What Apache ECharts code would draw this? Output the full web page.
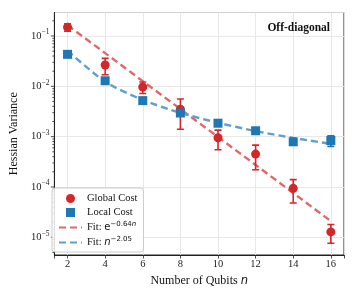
<!DOCTYPE html>
<html><head><meta charset="utf-8">
<script src="https://cdn.jsdelivr.net/npm/echarts@6/dist/echarts.min.js"></script>
<style>html,body{margin:0;padding:0;background:#fff}#c{width:357px;height:297px}</style>
</head><body><div id="c"></div>
<script>
const nVals = [2, 4, 6, 8, 10, 12, 14, 16];
const globalCost = [0.149, 0.0265, 0.0097, 0.0035, 0.00095, 0.00045, 0.000094, 0.0000128];
const globalErr  = [0.025, 0.0095, 0.0025, 0.0021, 0.0004, 0.00023, 0.000046, 0.0000052];
const localCost  = [0.0432, 0.0129, 0.0052, 0.00295, 0.00185, 0.00131, 0.00079, 0.00084];
const localErr   = [0.004, 0.0015, 0.0006, 0.0003, 0.0002, 0.00015, 0.0001, 0.0002];
const globalFit  = [0.164, 0.0457, 0.0127, 0.00354, 0.000985, 0.000274, 0.000076, 0.000021];
const localFit   = [0.051, 0.0123, 0.00536, 0.00297, 0.00189, 0.00129, 0.000944, 0.00072];
const xTickLabels = ['2', '4', '6', '8', '10', '12', '14', '16'];
const yMajor = [1e-5, 1e-4, 1e-3, 1e-2, 1e-1];
const yMin = 4.45e-6, yMax = 0.293;

const RED = '#d62728', BLUE = '#1f77b4', RED_FIT = '#e26768', BLUE_FIT = '#62a0ca';
const SERIF = 'Liberation Serif';

const minorVals = [];
for (let k = -6; k <= -1; k++) for (let m = 2; m <= 9; m++) {
  const v = m * Math.pow(10, k);
  if (v > yMin && v < yMax) minorVals.push(v);
}

function errData(vals, errs) { return nVals.map((n, i) => [n, vals[i] - errs[i], vals[i] + errs[i]]); }

function errRender(color) {
  return function (params, api) {
    const lo = api.coord([api.value(0), api.value(1)]);
    const hi = api.coord([api.value(0), api.value(2)]);
    const w = 3.5;
    const st = { stroke: color, lineWidth: 1.6 };
    return { type: 'group', children: [
      { type: 'line', shape: { x1: lo[0], y1: lo[1], x2: hi[0], y2: hi[1] }, style: st },
      { type: 'line', shape: { x1: lo[0] - w, y1: lo[1], x2: lo[0] + w, y2: lo[1] }, style: st },
      { type: 'line', shape: { x1: hi[0] - w, y1: hi[1], x2: hi[0] + w, y2: hi[1] }, style: st }
    ]};
  };
}

function tickRender(len) {
  return function (params, api) {
    const p = api.coord([api.value(0), api.value(1)]);
    const left = params.coordSys.x;
    return { type: 'line', shape: { x1: left - len, y1: p[1], x2: left, y2: p[1] }, style: { stroke: '#222', lineWidth: 0.8 } };
  };
}

const supMap = { '-1': '−1', '-2': '−2', '-3': '−3', '-4': '−4', '-5': '−5' };
const legendNames = {
  'Global Cost': 'Global Cost',
  'Local Cost': 'Local Cost',
  'fitG': 'Fit: {m|e}{s|−0.64}{si|n}',
  'fitL': 'Fit: {mi|n}{s|−2.05}'
};
const hidden = { color: 'rgba(0,0,0,0)', borderColor: 'rgba(0,0,0,0)', borderWidth: 0 };

const chart = echarts.init(document.getElementById('c'), null, { renderer: 'canvas' });
chart.setOption({
  animation: false,
  backgroundColor: '#fff',
  title: {
    text: 'Off-diagonal', right: 22, top: 17,
    textStyle: { fontFamily: SERIF, fontWeight: 'bold', fontSize: 11.5, color: '#111' }
  },
  grid: { left: 50, right: 13, top: 12.5, bottom: 42, show: true, borderColor: '#222', borderWidth: 1, backgroundColor: 'transparent' },
  legend: {
    left: 52, top: 188, orient: 'vertical',
    data: [
      { name: 'Global Cost', icon: 'circle' },
      { name: 'Local Cost', icon: 'path://M0,0 L10,0 L10,10 L0,10 Z' },
      { name: 'fitG', itemStyle: hidden },
      { name: 'fitL', itemStyle: hidden }
    ],
    formatter: n => legendNames[n],
    itemWidth: 23, itemHeight: 9, itemGap: 3,
    padding: [5, 6, 4, 6],
    backgroundColor: 'rgba(255,255,255,0.85)',
    borderColor: '#cccccc', borderWidth: 1, borderRadius: 3,
    textStyle: {
      fontFamily: SERIF, fontSize: 10.5, color: '#111', lineHeight: 11,
      rich: {
        m: { fontFamily: 'DejaVu Sans', fontSize: 10, color: '#111' },
        mi: { fontFamily: 'DejaVu Sans', fontStyle: 'italic', fontSize: 10, color: '#111' },
        s: { fontFamily: 'DejaVu Sans', fontSize: 7, color: '#111', padding: [0, 0, 6, 0] },
        si: { fontFamily: 'DejaVu Sans', fontStyle: 'italic', fontSize: 7, color: '#111', padding: [0, 0, 6, 0] }
      }
    }
  },
  xAxis: {
    type: 'value', min: 1.3, max: 16.7, splitNumber: 8,
    name: 'Number of Qubits {it|n}', nameLocation: 'middle', nameGap: 16,
    nameTextStyle: { fontFamily: SERIF, fontSize: 12, color: '#111',
      rich: { it: { fontFamily: 'DejaVu Sans', fontStyle: 'italic', fontSize: 11.5, color: '#111' } } },
    axisLine: { show: true, onZero: false, lineStyle: { color: '#222', width: 1 } },
    axisTick: { show: true, inside: false, length: 3.5, lineStyle: { color: '#222', width: 0.8 } },
    axisLabel: {
      fontFamily: SERIF, fontSize: 10.5, color: '#222', margin: 4,
      formatter: v => { const i = nVals.indexOf(v); return i >= 0 ? xTickLabels[i] : ''; }
    },
    splitLine: { show: true, lineStyle: { color: '#e5e5e5', width: 0.9 } }
  },
  yAxis: {
    type: 'log', logBase: 10, min: yMin, max: yMax,
    name: 'Hessian Variance', nameLocation: 'middle', nameGap: 29,
    nameTextStyle: { fontFamily: SERIF, fontSize: 12, color: '#111' },
    axisLine: { show: true, lineStyle: { color: '#222', width: 1 } },
    axisTick: { show: false },
    axisLabel: {
      fontFamily: SERIF, fontSize: 10.5, color: '#222', margin: 5,
      formatter: v => {
        const e = Math.log10(v);
        if (Math.abs(e - Math.round(e)) > 1e-6) return '';
        const k = String(Math.round(e));
        return '{b|10}{s|' + (supMap[k] || k) + '}';
      },
      rich: {
        b: { fontFamily: SERIF, fontSize: 10.5, color: '#222' },
        s: { fontFamily: SERIF, fontSize: 7.5, color: '#222', padding: [0, 0, 7, 0] }
      }
    },
    splitLine: { show: true, lineStyle: { color: '#e5e5e5', width: 0.9 } }
  },
  series: [
    { type: 'custom', name: 'majorTicks', silent: true, renderItem: tickRender(3.5), data: yMajor.map(v => [2, v]), z: 1 },
    { type: 'custom', name: 'minorTicks', silent: true, renderItem: tickRender(2), data: minorVals.map(v => [2, v]), z: 1 },
    { type: 'line', name: 'fitG', data: nVals.map((n, i) => [n, globalFit[i]]), symbol: 'none', showSymbol: false,
      lineStyle: { color: RED_FIT, width: 2.4, type: [7, 4] }, itemStyle: { color: RED_FIT }, z: 2 },
    { type: 'line', name: 'fitL', data: nVals.map((n, i) => [n, localFit[i]]), symbol: 'none', showSymbol: false, smooth: 0.25,
      lineStyle: { color: BLUE_FIT, width: 2.4, type: [7, 4] }, itemStyle: { color: BLUE_FIT }, z: 2 },
    { type: 'custom', name: 'globalErr', renderItem: errRender(RED), data: errData(globalCost, globalErr), z: 3, clip: true },
    { type: 'custom', name: 'localErr', renderItem: errRender(BLUE), data: errData(localCost, localErr), z: 3, clip: true },
    { type: 'scatter', name: 'Global Cost', data: nVals.map((n, i) => [n, globalCost[i]]), symbol: 'circle', symbolSize: 9,
      itemStyle: { color: RED, opacity: 1 }, z: 4 },
    { type: 'scatter', name: 'Local Cost', data: nVals.map((n, i) => [n, localCost[i]]), symbol: 'rect', symbolSize: 9,
      itemStyle: { color: BLUE, opacity: 1 }, z: 5 }
  ]
});
</script></body></html>
